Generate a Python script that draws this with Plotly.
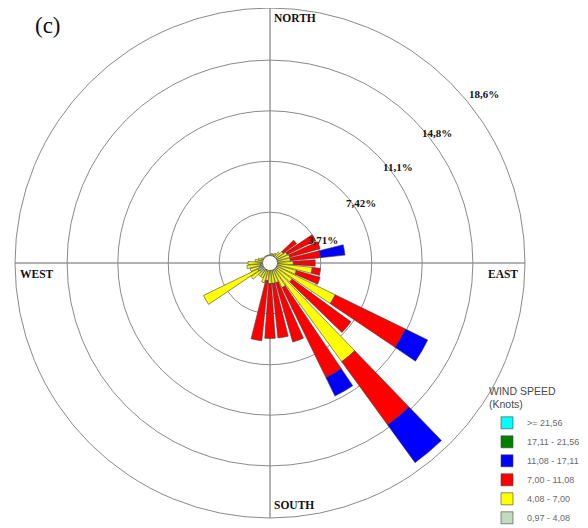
import math
import plotly.graph_objects as go

# ---- data -------------------------------------------------------------
directions = [0, 10, 20, 30, 40, 50, 60, 70, 80, 90, 100, 110, 120, 130, 140, 150, 160, 170,
              180, 190, 200, 210, 220, 230, 240, 250, 260, 270, 280, 290, 300, 310, 320, 330, 340, 350]

# frequency (%) of each speed class per direction, stacked from the centre outward
s_097_408 = [0.4, 0.4, 0.4, 0.4, 0.5, 0.5, 0.5, 0.5, 0.5, 0.5, 0.5, 0.5, 0.6, 0.6, 0.7, 0.5, 0.5, 0.5,
             0.5, 0.5, 0.5, 0.6, 0.7, 0.9, 1.0, 0.8, 0.7, 0.6, 0.5, 0.5, 0.4, 0.4, 0.4, 0.4, 0.4, 0.4]
s_408_700 = [0.2, 0.3, 0.3, 0.4, 0.5, 0.7, 0.9, 1.0, 1.0, 1.2, 2.6, 1.5, 4.7, 1.4, 8.2, 1.5, 1.0, 1.0,
             1.0, 0.8, 1.0, 0.6, 0.5, 0.8, 4.4, 0.7, 1.0, 1.0, 0.6, 0.4, 0.3, 0.2, 0.2, 0.2, 0.2, 0.2]
s_700_1108 = [0, 0, 0, 0, 0, 1.2, 2.3, 2.3, 2.2, 1.6, 0.6, 1.8, 5.7, 5.3, 5.7, 7.3, 4.5, 4.0,
              4.0, 4.4, 0, 0, 0, 0, 0, 0, 0, 0, 0, 0, 0, 0, 0, 0, 0, 0]
s_1108_1711 = [0, 0, 0, 0, 0, 0, 0, 0, 1.8, 0, 0, 0, 1.8, 0, 3.4, 1.5, 0, 0,
               0, 0, 0, 0, 0, 0, 0, 0, 0, 0, 0, 0, 0, 0, 0, 0, 0, 0]
s_1711_2156 = [0] * 36
s_2156_up = [0] * 36

class_names = ["0,97 - 4,08", "4,08 - 7,00", "7,00 - 11,08", "11,08 - 17,11", "17,11 - 21,56", ">= 21,56"]
class_values = [s_097_408, s_408_700, s_700_1108, s_1108_1711, s_1711_2156, s_2156_up]
class_colors = ["#C0DCC0", "#FFFF00", "#FF0000", "#0000FF", "#008000", "#00FFFF"]

ring_values = [3.71, 7.42, 11.1, 14.8, 18.6]
ring_labels = ["3,71%", "7,42%", "11,1%", "14,8%", "18,6%"]
# where the ring labels sit (radius in %, bearing in degrees)
ring_label_r = [4.2, 7.95, 11.66, 15.45, 19.9]
ring_label_theta = [66, 56.6, 53, 52, 51.7]

# ---- geometry (pixels as seen in the window; page body adds an 8px offset) ----
W, H = 588, 528
OFF = 8
cx, cy, R = 270 - OFF, 263 - OFF, 255
RMAX = 18.6


def px(x):
    return (x - OFF) / W


def py(y):
    return 1 - (y - OFF) / H


# ---- figure -----------------------------------------------------------
fig = go.Figure()
for name, vals, col in zip(class_names, class_values, class_colors):
    fig.add_trace(go.Barpolar(
        r=vals, theta=directions, name=name, width=8,
        marker=dict(color=col, line=dict(color="#404040", width=0.6)),
        hoverinfo="skip",
    ))

# centre circle
fig.add_trace(go.Scatterpolar(
    r=[0], theta=[0], mode="markers", showlegend=False, hoverinfo="skip",
    marker=dict(size=15, color="white", line=dict(color="#707070", width=1)),
))

fig.update_layout(
    width=W, height=H,
    margin=dict(l=0, r=0, t=0, b=0, autoexpand=False),
    paper_bgcolor="white",
    showlegend=True,
    polar=dict(
        domain=dict(x=[(cx - R) / W, (cx + R) / W], y=[1 - (cy + R) / H, 1 - (cy - R) / H]),
        bgcolor="white",
        barmode="stack",
        radialaxis=dict(range=[0, RMAX], tickvals=ring_values[:-1], showticklabels=False,
                        ticks="", showline=False, gridcolor="#8a8a8a", gridwidth=1),
        angularaxis=dict(rotation=90, direction="clockwise", tickvals=[0, 90, 180, 270],
                         showticklabels=False, ticks="", gridcolor="#666666", gridwidth=1,
                         showline=True, linecolor="#8a8a8a", linewidth=1),
    ),
    legend=dict(
        x=px(487), y=py(381), xanchor="left", yanchor="top",
        traceorder="reversed", bgcolor="rgba(0,0,0,0)",
        title=dict(text="WIND SPEED<br>(Knots)", font=dict(family="Liberation Sans", size=10.5, color="#4a4a4a")),
        font=dict(family="Liberation Sans", size=9, color="#6a6a6a"),
        itemclick=False, itemdoubleclick=False,
    ),
)

# ring labels placed through the polar scale
scale = R / RMAX
for rr, th, lab in zip(ring_label_r, ring_label_theta, ring_labels):
    x = cx + rr * scale * math.sin(math.radians(th))
    y = cy - rr * scale * math.cos(math.radians(th))
    fig.add_annotation(x=x / W, y=1 - y / H, xref="paper", yref="paper", text="<b>%s</b>" % lab,
                       showarrow=False, xanchor="center", yanchor="middle",
                       font=dict(family="Liberation Serif", size=11, color="#111111"))

bold = dict(family="Liberation Serif", size=11.5, color="#111111")
fig.add_annotation(x=px(272), y=py(18), xref="paper", yref="paper", text="<b>NORTH</b>",
                   showarrow=False, xanchor="left", yanchor="middle", font=bold)
fig.add_annotation(x=px(18), y=py(274), xref="paper", yref="paper", text="<b>WEST</b>",
                   showarrow=False, xanchor="left", yanchor="middle", font=bold)
fig.add_annotation(x=px(486), y=py(274), xref="paper", yref="paper", text="<b>EAST</b>",
                   showarrow=False, xanchor="left", yanchor="middle", font=bold)
fig.add_annotation(x=px(272), y=py(505), xref="paper", yref="paper", text="<b>SOUTH</b>",
                   showarrow=False, xanchor="left", yanchor="middle", font=bold)
fig.add_annotation(x=px(33), y=py(25), xref="paper", yref="paper", text="(c)",
                   showarrow=False, xanchor="left", yanchor="middle",
                   font=dict(family="Liberation Serif", size=23, color="#111111"))

fig.write_html("out.html")
